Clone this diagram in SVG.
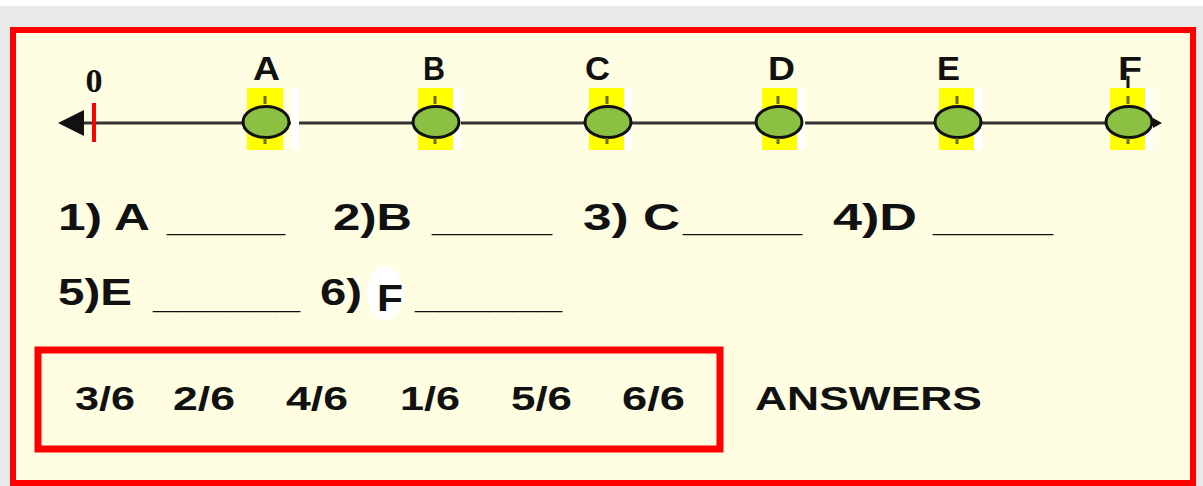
<svg xmlns="http://www.w3.org/2000/svg" width="1203" height="486" viewBox="0 0 1203 486">
  <defs>
    <style>
      .lbl { font-family: "Liberation Sans", Arial, sans-serif; font-weight: bold; fill: #111; }
      .q { font-family: "Liberation Sans", Arial, sans-serif; font-weight: bold; font-size: 37px; fill: #111; }
      .ans { font-family: "Liberation Sans", Arial, sans-serif; font-weight: bold; font-size: 33px; fill: #111; }
      .hl { fill: #ffff00; }
      .dot { fill: #8bc043; stroke: #111; stroke-width: 3; }
      .tick { stroke: #6b6b10; stroke-width: 3; }
    </style>
  </defs>
  <!-- background -->
  <rect x="0" y="0" width="1203" height="486" fill="#e9e9e7"/>
  <rect x="0" y="0" width="1203" height="6" fill="#ffffff"/>
  <!-- main panel -->
  <rect id="panel" x="13" y="30" width="1180" height="453" fill="#fefde1" stroke="#ff0000" stroke-width="6"/>

  <!-- number line -->
  <g id="connectors">
    <line x1="80" y1="123" x2="1156" y2="123" stroke="#333" stroke-width="3"/>
    <polygon points="58,123 84,110 84,136" fill="#111"/>
    <polygon points="1153,118 1162,123 1153,128" fill="#111"/>
  </g>

  <g id="zero">
    <line x1="94" y1="103" x2="94" y2="142" stroke="#ff0000" stroke-width="4"/>
    <text x="94" y="92" text-anchor="middle" font-family="Liberation Serif, serif" font-weight="bold" font-size="34" fill="#111">0</text>
  </g>

  <g id="pA">
    <rect x="291" y="88" width="8" height="62" fill="#fff"/>
    <rect class="hl" x="247" y="88" width="36" height="62"/>
    <ellipse class="dot" cx="266" cy="122" rx="23" ry="15.5"/>
    <line class="tick" x1="265" y1="96" x2="265" y2="104"/>
    <line class="tick" x1="265" y1="138" x2="265" y2="144"/>
    <text class="lbl" x="253" y="80" font-size="34" textLength="27" lengthAdjust="spacingAndGlyphs">A</text>
  </g>
  <g id="pB">
    <rect x="453" y="88" width="8" height="62" fill="#fff"/>
    <rect class="hl" x="418" y="88" width="35" height="62"/>
    <ellipse class="dot" cx="436" cy="122" rx="23" ry="15.5"/>
    <line class="tick" x1="435" y1="96" x2="435" y2="104"/>
    <line class="tick" x1="435" y1="138" x2="435" y2="144"/>
    <text class="lbl" x="423" y="80" font-size="34" textLength="22" lengthAdjust="spacingAndGlyphs">B</text>
  </g>
  <g id="pC">
    <rect x="624" y="88" width="8" height="62" fill="#fff"/>
    <rect class="hl" x="589" y="88" width="35" height="62"/>
    <ellipse class="dot" cx="608" cy="122" rx="23" ry="15.5"/>
    <line class="tick" x1="607" y1="96" x2="607" y2="104"/>
    <line class="tick" x1="607" y1="138" x2="607" y2="144"/>
    <text class="lbl" x="585" y="80" font-size="34" textLength="25" lengthAdjust="spacingAndGlyphs">C</text>
  </g>
  <g id="pD">
    <rect x="797" y="88" width="8" height="62" fill="#fff"/>
    <rect class="hl" x="762" y="88" width="35" height="62"/>
    <ellipse class="dot" cx="779" cy="122" rx="23" ry="15.5"/>
    <line class="tick" x1="778" y1="96" x2="778" y2="104"/>
    <line class="tick" x1="778" y1="138" x2="778" y2="144"/>
    <text class="lbl" x="768" y="80" font-size="34" textLength="27" lengthAdjust="spacingAndGlyphs">D</text>
  </g>
  <g id="pE">
    <rect x="974" y="88" width="8" height="62" fill="#fff"/>
    <rect class="hl" x="939" y="88" width="35" height="62"/>
    <ellipse class="dot" cx="958" cy="122" rx="23" ry="15.5"/>
    <line class="tick" x1="957" y1="96" x2="957" y2="104"/>
    <line class="tick" x1="957" y1="138" x2="957" y2="144"/>
    <text class="lbl" x="937" y="80" font-size="34" textLength="23" lengthAdjust="spacingAndGlyphs">E</text>
  </g>
  <g id="pF">
    <rect x="1145" y="88" width="8" height="62" fill="#fff"/>
    <rect class="hl" x="1110" y="88" width="35" height="62"/>
    <ellipse class="dot" cx="1129" cy="122" rx="23" ry="15.5"/>
    <line class="tick" x1="1128" y1="96" x2="1128" y2="104"/>
    <line class="tick" x1="1128" y1="138" x2="1128" y2="144"/>
    <line x1="1128" y1="76" x2="1128" y2="88" stroke="#111" stroke-width="3"/>
    <text class="lbl" x="1118" y="80" font-size="34" textLength="24" lengthAdjust="spacingAndGlyphs">F</text>
  </g>

  <!-- questions -->
  <g id="questions">
    <text class="q" x="58" y="230" textLength="92" lengthAdjust="spacingAndGlyphs">1) A</text>
    <text class="q" x="167" y="231" textLength="118" lengthAdjust="spacingAndGlyphs">_____</text>
    <text class="q" x="333" y="230" textLength="79" lengthAdjust="spacingAndGlyphs">2)B</text>
    <text class="q" x="432" y="231" textLength="120" lengthAdjust="spacingAndGlyphs">_____</text>
    <text class="q" x="583" y="230" textLength="97" lengthAdjust="spacingAndGlyphs">3) C</text>
    <text class="q" x="683" y="231" textLength="119" lengthAdjust="spacingAndGlyphs">_____</text>
    <text class="q" x="833" y="230" textLength="84" lengthAdjust="spacingAndGlyphs">4)D</text>
    <text class="q" x="933" y="231" textLength="120" lengthAdjust="spacingAndGlyphs">_____</text>

    <text class="q" x="58" y="305" textLength="74" lengthAdjust="spacingAndGlyphs">5)E</text>
    <text class="q" x="153" y="308" textLength="147" lengthAdjust="spacingAndGlyphs">______</text>
    <text class="q" x="320" y="305" textLength="42" lengthAdjust="spacingAndGlyphs">6)</text>
    <ellipse cx="385" cy="293" rx="18" ry="27" fill="#ffffff"/>
    <text class="q" x="377" y="311" textLength="26" lengthAdjust="spacingAndGlyphs">F</text>
    <text class="q" x="415" y="308" textLength="147" lengthAdjust="spacingAndGlyphs">______</text>
  </g>

  <!-- answers -->
  <g id="answers">
    <rect x="38" y="350" width="682" height="99" fill="none" stroke="#ff0000" stroke-width="7"/>
    <text class="ans" x="75" y="410" textLength="60" lengthAdjust="spacingAndGlyphs">3/6</text>
    <text class="ans" x="173" y="410" textLength="62" lengthAdjust="spacingAndGlyphs">2/6</text>
    <text class="ans" x="286" y="410" textLength="62" lengthAdjust="spacingAndGlyphs">4/6</text>
    <text class="ans" x="400" y="410" textLength="60" lengthAdjust="spacingAndGlyphs">1/6</text>
    <text class="ans" x="511" y="410" textLength="61" lengthAdjust="spacingAndGlyphs">5/6</text>
    <text class="ans" x="622" y="410" textLength="63" lengthAdjust="spacingAndGlyphs">6/6</text>
  </g>
  <g id="answers-label">
    <text class="ans" x="755" y="410" textLength="227" lengthAdjust="spacingAndGlyphs">ANSWERS</text>
  </g>
</svg>
